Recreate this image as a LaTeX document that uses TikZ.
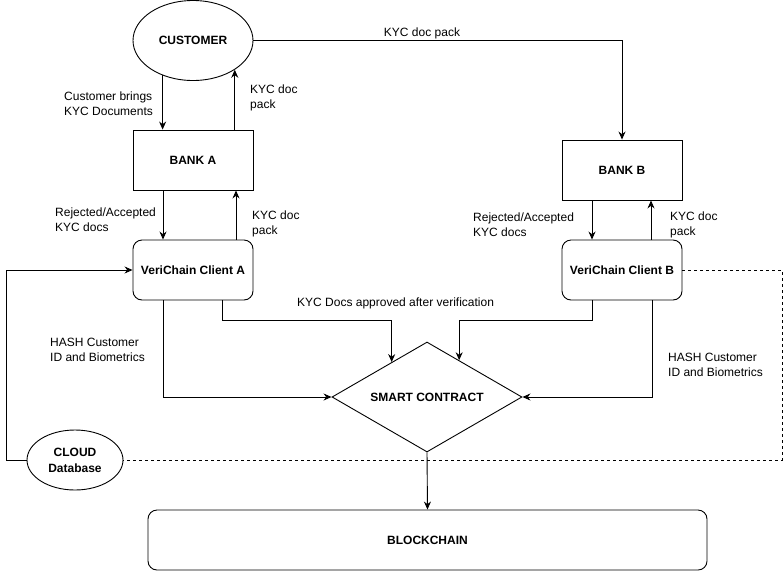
\documentclass[tikz,border=0pt]{standalone}
\usepackage{fontspec}
\setmainfont{Liberation Sans}
\usetikzlibrary{shapes.geometric,arrows.meta,calc}
\begin{document}
\begin{tikzpicture}[x=1pt,y=-1pt,
  every node/.style={font=\fontsize{12}{15}\selectfont},
  boldfont/.style={font=\fontsize{12}{16}\selectfont\bfseries},
  box/.style={draw, line width=0.9pt, minimum width=120pt, minimum height=60pt, inner sep=0pt, boldfont},
  rbox/.style={box, rounded corners=9pt},
  oval/.style={draw, ellipse, line width=0.9pt, inner sep=0pt, boldfont, align=center},
  lbl/.style={align=left, inner sep=0pt, anchor=west},
  conn/.style={line width=0.9pt},
  arr/.style={conn, -{Stealth[length=8pt,width=7pt]}},
]
\useasboundingbox (0,0) rectangle (784,571);

% nodes
\node[oval, minimum width=120pt, minimum height=80pt] (cust) at (193,40.5) {CUSTOMER};
\node[box] (bankA) at (193,160) {BANK A};
\node[box] (bankB) at (622,170) {BANK B};
\node[rbox] (clientA) at (193,270) {VeriChain Client A};
\node[rbox] (clientB) at (622,270) {VeriChain Client B};
\node[draw, diamond, aspect=1.7, minimum width=190pt, minimum height=110pt, inner sep=0pt, line width=0.9pt, boldfont] (sc) at (427,397) {SMART CONTRACT};
\node[oval, minimum width=96pt, minimum height=60pt] (cloud) at (75,460) {CLOUD\\Database};
\node[rbox, minimum width=559pt] (bc) at (427.5,540) {BLOCKCHAIN};
\coordinate (dr) at (782,460);

% connectors
\draw[arr] (cust.229) -- (cust.229 |- bankA.north);
\draw[arr] (cust.-35.5 |- bankA.north) -- (cust.-35.5);
\draw[arr] (cust.east) -| (bankB.north);
\draw[arr] ([xshift=-30pt]bankA.south) -- ([xshift=-30pt]clientA.north);
\draw[arr] ([xshift=43pt]clientA.north) -- ([xshift=43pt]bankA.south);
\draw[arr] ([xshift=-30pt]bankB.south) -- ([xshift=-30pt]clientB.north);
\draw[arr] ([xshift=29pt]clientB.north) -- ([xshift=29pt]bankB.south);
\draw[arr] ([xshift=-30pt]clientA.south) |- (sc.west);
\draw[arr] ([xshift=29pt]clientA.south) -- ++(0,20) -| ($(sc.west)!0.63!(sc.north)$);
\draw[arr] ([xshift=-30pt]clientB.south) -- ++(0,20) -| ($(sc.north)!0.337!(sc.east)$);
\draw[arr] ([xshift=30pt]clientB.south) |- (sc.east);
\draw[arr] (sc.south) -- (bc.north);
\draw[arr] (cloud.west) -- ++(-20,0) |- (clientA.west);
\draw[conn, dash pattern=on 3pt off 3pt] (clientB.east) -| (dr) -- (cloud.east);

% labels
\node[lbl, anchor=base] (l1) at (422,36) {KYC doc pack};
\node[lbl] (l2) at (64,104) {Customer brings\\KYC Documents};
\node[lbl] (l3) at (250,97.5) {KYC doc\\pack};
\node[lbl] (l4) at (55,220) {Rejected/Accepted\\KYC docs};
\node[lbl] (l5) at (252,224) {KYC doc\\pack};
\node[lbl] (l6) at (473,225) {Rejected/Accepted\\KYC docs};
\node[lbl] (l7) at (670,225) {KYC doc\\pack};
\node[lbl, anchor=base west] (l8) at (297,306) {KYC Docs approved after verification};
\node[lbl] (l9) at (50,349.5) {HASH Customer\\ID and Biometrics};
\node[lbl] (l10) at (668,365) {HASH Customer\\ID and Biometrics};
\end{tikzpicture}
\end{document}
